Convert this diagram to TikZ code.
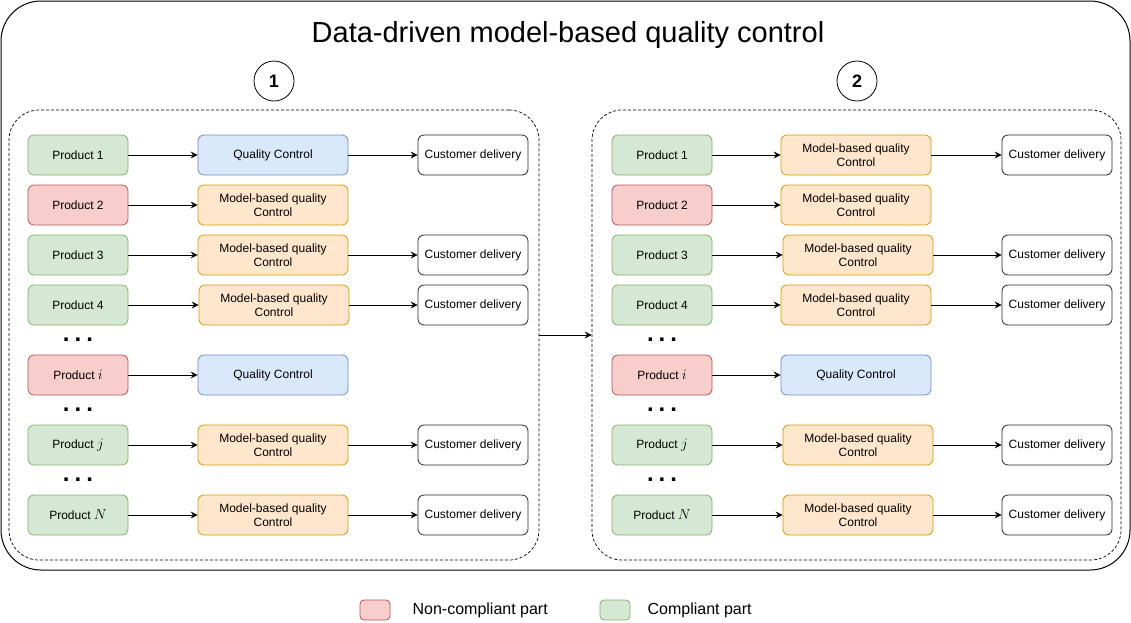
\documentclass[tikz,border=0pt]{standalone}
\usepackage{fontspec}
\setmainfont{Liberation Sans}
\usepackage{xcolor}
\usepackage{tikz}
\usetikzlibrary{positioning,arrows.meta}

\definecolor{okfill}{HTML}{D5E8D4}
\definecolor{okline}{HTML}{82B366}
\definecolor{nokfill}{HTML}{F8CECC}
\definecolor{nokline}{HTML}{B85450}
\definecolor{qcfill}{HTML}{DAE8FC}
\definecolor{qcline}{HTML}{6C8EBF}
\definecolor{mbfill}{HTML}{FFE6CC}
\definecolor{mbline}{HTML}{D79B00}

\newcommand{\prodidx}[1]{{\fontsize{14.5}{14}\selectfont$#1$}}
\newcommand{\skipdots}{.\hspace{5pt}.\hspace{5pt}.}

\begin{document}
\begin{tikzpicture}[x=1pt, y=-1pt,
    box/.style={draw, rectangle, rounded corners=6pt, minimum height=40pt, align=center, inner sep=1pt, line width=0.8pt, font=\fontsize{12}{14}\selectfont},
    okpart/.style={box, fill=okfill, draw=okline, minimum width=100pt},
    nokpart/.style={box, fill=nokfill, draw=nokline, minimum width=100pt},
    qcbox/.style={box, fill=qcfill, draw=qcline, minimum width=150pt},
    mbqc/.style={box, fill=mbfill, draw=mbline, minimum width=150pt},
    delivery/.style={box, fill=white, draw=black!85, minimum width=110pt},
    flow/.style={-{Stealth[length=7pt, width=7pt, inset=2.5pt]}, line width=0.8pt},
    dots/.style={font=\fontsize{24}{24}\selectfont\bfseries, inner sep=0pt},
    stage/.style={draw, dash pattern=on 3pt off 2pt, rounded corners=30pt, minimum height=450pt, line width=0.7pt},
    badge/.style={draw, circle, minimum size=40pt, inner sep=0pt, line width=0.8pt, font=\fontsize{18}{18}\selectfont\bfseries},
    swatch/.style={draw, rectangle, rounded corners=4pt, minimum width=30pt, minimum height=20pt, line width=0.8pt}
]
    \useasboundingbox (0,0) rectangle (1131,622);

    % Frame
    \node[draw, rounded corners=40pt, minimum width=1129pt, minimum height=569pt, line width=1pt] (frame) at (565.5,285.5) {};
    \node[font=\fontsize{29}{32}\selectfont] (title) at (568,35) {Data-driven model-based quality control};

    % Stages
    \node[stage, minimum width=530pt] (stage1) at (274,335) {};
    \node[stage, minimum width=529pt] (stage2) at (856.5,335) {};
    \node[badge] (badge1) at (274,81) {1};
    \node[badge] (badge2) at (857,81) {2};
    \draw[flow] (stage1) -- (stage2);

    % Stage 1 components
    \node[okpart] (lp1) at (78,155) {Product 1};
    \node[qcbox] (lqc1) at (273,155) {Quality Control};
    \node[delivery] (lcd1) at (473,155) {Customer delivery};

    \node[nokpart] (lp2) at (78,205) {Product 2};
    \node[mbqc] (lqc2) at (273,205) {Model-based quality\\Control};

    \node[okpart] (lp3) at (78,255) {Product 3};
    \node[mbqc] (lqc3) at (273,255) {Model-based quality\\Control};
    \node[delivery] (lcd3) at (473,255) {Customer delivery};

    \node[okpart] (lp4) at (78,305) {Product 4};
    \node[mbqc] (lqc4) at (274,305) {Model-based quality\\Control};
    \node[delivery] (lcd4) at (473,305) {Customer delivery};

    \node[dots] (ldots1) at (78,340) {\skipdots};

    \node[nokpart] (lpi) at (78,375) {Product \prodidx{i}};
    \node[qcbox] (lqci) at (273,375) {Quality Control};

    \node[dots] (ldots2) at (78,410) {\skipdots};

    \node[okpart] (lpj) at (78,445) {Product \prodidx{j}};
    \node[mbqc] (lqcj) at (273,445) {Model-based quality\\Control};
    \node[delivery] (lcdj) at (473,445) {Customer delivery};

    \node[dots] (ldots3) at (78,480) {\skipdots};

    \node[okpart] (lpN) at (78,515) {Product \prodidx{N}};
    \node[mbqc] (lqcN) at (273,515) {Model-based quality\\Control};
    \node[delivery] (lcdN) at (473,515) {Customer delivery};

    % Stage 1 flow
    \draw[flow] (lp1) -- (lqc1);
    \draw[flow] (lqc1) -- (lcd1);
    \draw[flow] (lp2) -- (lqc2);
    \draw[flow] (lp3) -- (lqc3);
    \draw[flow] (lqc3) -- (lcd3);
    \draw[flow] (lp4) -- (lqc4);
    \draw[flow] (lqc4) -- (lcd4);
    \draw[flow] (lpi) -- (lqci);
    \draw[flow] (lpj) -- (lqcj);
    \draw[flow] (lqcj) -- (lcdj);
    \draw[flow] (lpN) -- (lqcN);
    \draw[flow] (lqcN) -- (lcdN);

    % Stage 2 components
    \node[okpart] (rp1) at (662,155) {Product 1};
    \node[mbqc] (rqc1) at (856,155) {Model-based quality\\Control};
    \node[delivery] (rcd1) at (1057,155) {Customer delivery};

    \node[nokpart] (rp2) at (662,205) {Product 2};
    \node[mbqc] (rqc2) at (856,205) {Model-based quality\\Control};

    \node[okpart] (rp3) at (662,255) {Product 3};
    \node[mbqc] (rqc3) at (858,255) {Model-based quality\\Control};
    \node[delivery] (rcd3) at (1057,255) {Customer delivery};

    \node[okpart] (rp4) at (662,305) {Product 4};
    \node[mbqc] (rqc4) at (856,305) {Model-based quality\\Control};
    \node[delivery] (rcd4) at (1057,305) {Customer delivery};

    \node[dots] (rdots1) at (662,340) {\skipdots};

    \node[nokpart] (rpi) at (662,375) {Product \prodidx{i}};
    \node[qcbox] (rqci) at (856,375) {Quality Control};

    \node[dots] (rdots2) at (662,410) {\skipdots};

    \node[okpart] (rpj) at (662,445) {Product \prodidx{j}};
    \node[mbqc] (rqcj) at (858,445) {Model-based quality\\Control};
    \node[delivery] (rcdj) at (1057,445) {Customer delivery};

    \node[dots] (rdots3) at (662,480) {\skipdots};

    \node[okpart] (rpN) at (662,515) {Product \prodidx{N}};
    \node[mbqc] (rqcN) at (858,515) {Model-based quality\\Control};
    \node[delivery] (rcdN) at (1057,515) {Customer delivery};

    % Stage 2 flow
    \draw[flow] (rp1) -- (rqc1);
    \draw[flow] (rqc1) -- (rcd1);
    \draw[flow] (rp2) -- (rqc2);
    \draw[flow] (rp3) -- (rqc3);
    \draw[flow] (rqc3) -- (rcd3);
    \draw[flow] (rp4) -- (rqc4);
    \draw[flow] (rqc4) -- (rcd4);
    \draw[flow] (rpi) -- (rqci);
    \draw[flow] (rpj) -- (rqcj);
    \draw[flow] (rqcj) -- (rcdj);
    \draw[flow] (rpN) -- (rqcN);
    \draw[flow] (rqcN) -- (rcdN);

    % Legend
    \node[swatch, fill=nokfill, draw=nokline] (nokkey) at (375,610) {};
    \node[right=22pt of nokkey, inner sep=0pt, font=\fontsize{16}{18}\selectfont] (noktext) {Non-compliant part};
    \node[swatch, fill=okfill, draw=okline] (okkey) at (615,610) {};
    \node[right=17pt of okkey, inner sep=0pt, font=\fontsize{16}{18}\selectfont] (oktext) {Compliant part};
\end{tikzpicture}
\end{document}
